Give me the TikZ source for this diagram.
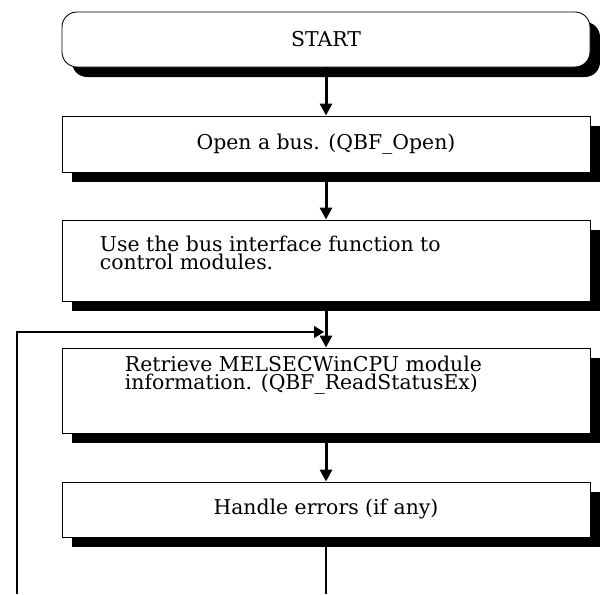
\documentclass[tikz,border=0pt]{standalone}
\usepackage{tikz}
\usepackage{xcolor}
\usepackage{fontspec}
\setmainfont{DejaVu Serif}
\usetikzlibrary{shadows,arrows.meta}

\begin{document}
\begin{tikzpicture}[
  flowText/.style={font=\fontsize{11.6}{10.4}\selectfont},
  flowBox/.style={flowText, draw=black, line width=0.5pt, fill=white, minimum width=10.56cm,
    drop shadow={shadow xshift=0.2cm, shadow yshift=-0.2cm, fill=black, opacity=1}},
  flowStart/.style={flowBox, rounded corners=0.3cm},
  flowLine/.style={line width=0.034cm},
  flowArrow/.style={line width=0.06cm, -{Triangle[length=0.24cm,width=0.24cm]}},
  flowLoop/.style={line width=0.03cm, -{Triangle[length=0.2cm,width=0.24cm]}}
]
  \useasboundingbox (0cm,0cm) rectangle (12cm,-11.88cm);
  \node[flowStart, minimum height=1.1cm] (start) at (6.52cm,-0.79cm) {START};
  \node[flowBox, minimum height=1.12cm] (open) at (6.52cm,-2.88cm) {Open a bus. (QBF\_Open)};
  \node[flowBox, minimum height=1.62cm] (use) at (6.52cm,-5.21cm) {};
  \node[flowText, anchor=west, align=left, inner sep=0pt] (useText) at ([xshift=0.76cm,yshift=0.15cm]use.west) {Use the bus interface function to\\control modules.};
  \node[flowBox, minimum height=1.7cm] (read) at (6.52cm,-7.81cm) {};
  \node[flowText, anchor=west, align=left, inner sep=0pt] (readText) at ([xshift=1.26cm,yshift=0.3cm]read.west) {Retrieve MELSECWinCPU module\\information. (QBF\_ReadStatusEx)};
  \node[flowBox, minimum height=1.1cm] (error) at (6.52cm,-10.19cm) {Handle errors (if any)};
  \coordinate (loopIn) at (6.48cm,-6.64cm);
  \coordinate (loopOut) at (0.34cm,-11.88cm);
  \coordinate (flowOut) at (6.52cm,-11.88cm);
  \draw[flowArrow] (start) -- (open);
  \draw[flowArrow] (open) -- (use);
  \draw[flowArrow] (use) -- (read);
  \draw[flowArrow] (read) -- (error);
  \draw[flowLine] (error) -- (flowOut);
  \draw[flowLoop] (loopOut) |- (loopIn);
\end{tikzpicture}
\end{document}
